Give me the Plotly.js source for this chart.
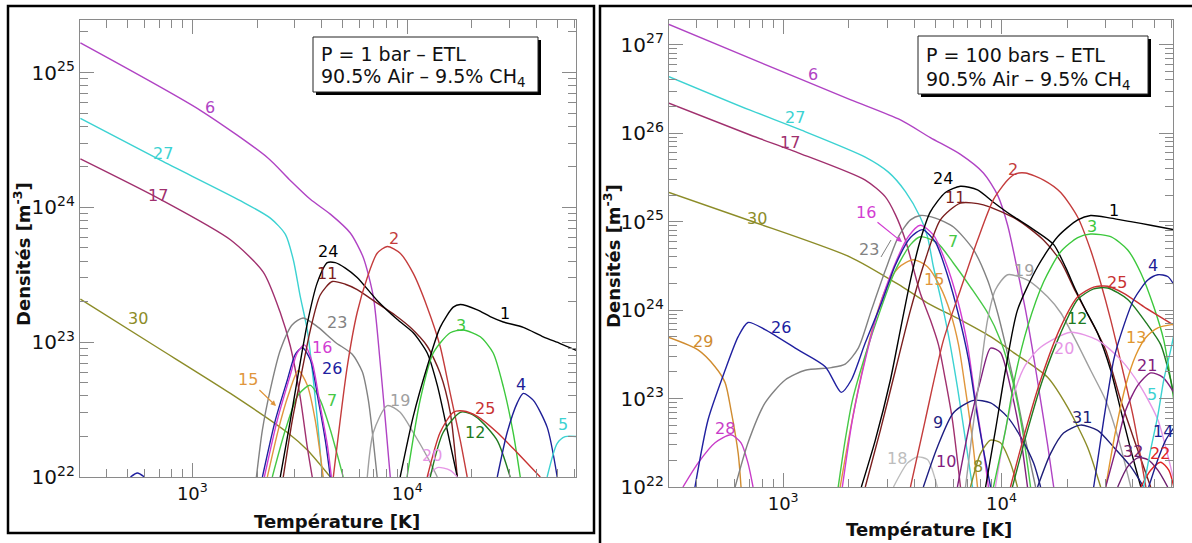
<!DOCTYPE html>
<html><head><meta charset="utf-8">
<script src="https://cdn.plot.ly/plotly-3.0.1.min.js"></script>
<style>html,body{margin:0;padding:0;background:#fff}#chart{width:1192px;height:543px}</style>
</head><body><div id="chart"></div>
<script>
// ===== DATA: log10(T / K) and log10(density / m^-3) =====
// ---- Left panel : P = 1 bar ----
const L1_lgT = [3.967,4.028,4.093,4.153,4.214,4.247,4.326,4.386,4.447,4.540,4.633,4.712,4.786];
const L1_lgN = [22.0,22.45,22.82,23.11,23.26,23.28,23.24,23.19,23.15,23.11,23.04,22.99,22.94];
const L2_lgT = [3.656,3.721,3.767,3.814,3.860,3.907,3.967,4.028,4.093,4.153,4.200,4.247,4.279];
const L2_lgN = [22.0,22.82,23.22,23.48,23.66,23.71,23.66,23.51,23.26,22.97,22.62,22.27,22.0];
const L3_lgT = [3.999,4.060,4.121,4.200,4.260,4.340,4.400,4.447,4.493,4.526];
const L3_lgN = [22.0,22.57,22.92,23.07,23.09,23.04,22.92,22.67,22.33,22.0];
const L4_lgT = [4.419,4.465,4.512,4.540,4.586,4.651,4.698];
const L4_lgN = [22.0,22.33,22.55,22.62,22.57,22.37,22.0];
const L5_lgT = [4.651,4.698,4.735,4.786];
const L5_lgN = [22.0,22.25,22.30,22.30];
const L6_lgT = [2.479,3.037,3.349,3.456,3.549,3.642,3.735,3.795,3.842,3.874,3.902,3.921];
const L6_lgN = [25.22,24.72,24.37,24.20,24.06,23.95,23.81,23.63,23.34,22.85,22.35,22.0];
const L7_lgT = [3.372,3.433,3.493,3.549,3.595,3.642,3.702];
const L7_lgN = [22.0,22.35,22.61,22.68,22.57,22.35,22.0];
const L11_lgT = [3.423,3.465,3.502,3.549,3.595,3.651,3.712,3.767,3.860,3.944,4.014,4.093,4.153,4.200,4.233];
const L11_lgN = [22.0,22.42,22.72,23.09,23.35,23.45,23.43,23.39,23.29,23.20,23.11,22.97,22.77,22.48,22.0];
const L12_lgT = [4.107,4.167,4.247,4.293,4.340,4.419,4.479];
const L12_lgN = [22.0,22.33,22.48,22.47,22.42,22.27,22.0];
const L15_lgT = [3.349,3.400,3.447,3.493,3.535,3.572,3.609];
const L15_lgN = [22.0,22.35,22.61,22.79,22.68,22.42,22.0];
const L16_lgT = [3.335,3.395,3.451,3.488,3.521,3.558,3.595,3.628,3.647];
const L16_lgN = [22.0,22.42,22.73,22.92,22.98,22.85,22.53,22.24,22.0];
const L17_lgT = [2.479,2.851,3.177,3.330,3.409,3.456,3.502,3.535,3.558];
const L17_lgN = [24.36,24.06,23.76,23.52,23.22,22.97,22.59,22.22,22.0];
const L19_lgT = [3.814,3.842,3.907,3.967,4.028,4.093,4.140];
const L19_lgN = [22.0,22.33,22.53,22.48,22.33,22.15,22.0];
const L20_lgT = [4.093,4.140,4.200,4.233];
const L20_lgN = [22.0,22.07,22.05,22.0];
const L23_lgT = [3.298,3.326,3.363,3.409,3.465,3.516,3.586,3.665,3.744,3.791,3.819,3.842,3.860];
const L23_lgN = [22.0,22.35,22.65,22.94,23.13,23.18,23.11,23.00,22.91,22.78,22.57,22.27,22.0];
const L24_lgT = [3.409,3.456,3.488,3.535,3.581,3.628,3.665,3.712,3.767,3.860,3.953,4.028,4.093,4.140,4.186,4.233];
const L24_lgN = [22.0,22.42,22.72,23.14,23.44,23.59,23.59,23.55,23.48,23.31,23.17,23.07,22.92,22.68,22.35,22.0];
const L25_lgT = [4.093,4.153,4.214,4.260,4.326,4.419,4.512,4.619];
const L25_lgN = [22.0,22.33,22.48,22.49,22.45,22.33,22.18,22.0];
const L26_lgT = [2.712,2.744,2.777,null,3.326,3.386,3.442,3.479,3.512,3.549,3.586,3.619,3.642];
const L26_lgN = [22.0,22.03,22.0,null,22.0,22.42,22.72,22.91,22.96,22.87,22.57,22.27,22.0];
const L27_lgT = [2.479,2.851,3.223,3.363,3.433,3.470,3.502,3.535,3.563,3.586,3.605];
const L27_lgN = [24.66,24.35,24.05,23.92,23.80,23.61,23.34,23.09,22.72,22.35,22.0];
const L30_lgT = [2.479,2.828,3.177,3.442,3.535,3.642];
const L30_lgN = [23.32,22.97,22.62,22.33,22.20,22.0];

// ---- Right panel : P = 100 bars ----
const R1_lgT = [3.927,3.972,4.018,4.073,4.165,4.257,4.349,4.408,4.500,4.592,4.683,4.789];
const R1_lgN = [22.0,22.64,23.32,24.00,24.49,24.83,25.02,25.07,25.04,25.00,24.96,24.91];
const R2_lgT = [3.583,3.651,3.734,3.812,3.890,3.963,4.028,4.064,4.110,4.193,4.271,4.349,4.408,4.454,4.500,4.555,4.606,4.661];
const R2_lgN = [22.0,22.76,23.66,24.23,24.79,25.25,25.47,25.54,25.55,25.47,25.33,25.05,24.68,24.31,23.89,23.32,22.76,22.0];
const R3_lgT = [3.963,4.018,4.064,4.119,4.193,4.271,4.349,4.408,4.500,4.578,4.638,4.697,4.743,4.775,4.789];
const R3_lgN = [22.0,22.64,23.27,23.81,24.32,24.66,24.82,24.86,24.83,24.68,24.42,24.04,23.66,23.21,22.98];
const R4_lgT = [4.422,4.468,4.514,4.546,4.606,4.670,4.716,4.761,4.789];
const R4_lgN = [22.0,22.76,23.44,23.72,24.12,24.34,24.40,24.38,24.29];
const R5_lgT = [4.651,4.683,4.716,4.743,4.775,4.789];
const R5_lgN = [22.0,22.42,22.81,23.21,23.55,23.72];
const R6_lgT = [2.477,2.894,3.307,3.537,3.674,3.812,3.917,3.982,4.028,4.073,4.110,4.142,4.179,4.211,4.239];
const R6_lgN = [27.23,26.80,26.38,26.15,25.95,25.76,25.55,25.30,24.96,24.45,24.00,23.55,22.98,22.48,22.0];
const R7_lgT = [3.252,3.284,3.317,3.376,3.445,3.514,3.583,3.628,3.706,3.780,3.858,3.936,3.995,4.050,4.096,4.133];
const R7_lgN = [22.0,22.53,22.98,23.49,24.00,24.45,24.74,24.83,24.76,24.53,24.26,23.97,23.66,23.21,22.64,22.0];
const R8_lgT = [3.858,3.904,3.950,3.995,4.041,4.073];
const R8_lgN = [22.0,22.38,22.53,22.50,22.27,22.0];
const R9_lgT = [3.642,3.706,3.780,3.872,3.950,4.028,4.087,4.147,4.179];
const R9_lgN = [22.0,22.45,22.84,22.98,22.95,22.79,22.57,22.27,22.0];
const R10_lgT = [3.798,3.858,3.904,3.950,3.995,4.041,4.087,4.119];
const R10_lgN = [22.0,22.76,23.21,23.57,23.52,23.13,22.57,22.0];
const R11_lgT = [3.376,3.445,3.514,3.583,3.651,3.720,3.812,3.917,4.073,4.193,4.271,4.339,4.408,4.477,4.546,4.615,4.683];
const R11_lgN = [22.0,22.64,23.32,24.00,24.57,25.02,25.21,25.19,25.02,24.79,24.55,24.21,23.89,23.55,22.98,22.48,22.0];
const R12_lgT = [4.050,4.119,4.188,4.271,4.349,4.422,4.486,4.578,4.670,4.729,4.775,4.789];
const R12_lgN = [22.0,22.64,23.21,23.74,24.12,24.24,24.25,24.12,23.83,23.61,23.21,23.04];
const R13_lgT = [4.477,4.523,4.569,4.615,4.661,4.716,4.789];
const R13_lgN = [22.0,22.64,23.15,23.49,23.69,23.80,23.84];
const R14_lgT = [4.674,4.716,4.752,4.789];
const R14_lgN = [22.0,22.31,22.53,22.67];
const R15_lgT = [3.261,3.307,3.353,3.408,3.468,3.528,3.596,3.661,3.720,3.766,3.803,3.835,3.867,3.890];
const R15_lgN = [22.0,22.64,23.21,23.78,24.23,24.48,24.57,24.49,24.26,23.97,23.61,23.10,22.53,22.0];
const R16_lgT = [3.271,3.317,3.376,3.436,3.505,3.573,3.628,3.688,3.743,3.798,3.844,3.881,3.917,3.940];
const R16_lgN = [22.0,22.76,23.44,24.00,24.48,24.83,24.96,24.85,24.55,24.12,23.61,22.98,22.42,22.0];
const R17_lgT = [2.477,2.849,3.078,3.376,3.468,3.514,3.560,3.592,3.628,3.674,3.711,3.743,3.775,3.812];
const R17_lgN = [26.34,25.98,25.77,25.47,25.28,25.08,24.79,24.51,24.19,23.89,23.61,23.21,22.76,22.0];
const R18_lgT = [3.505,3.569,3.615,3.661,3.706];
const R18_lgN = [22.0,22.27,22.34,22.31,22.0];
const R19_lgT = [3.835,3.867,3.904,3.936,3.972,4.028,4.119,4.211,4.271,4.339,4.408,4.477,4.537,4.592];
const R19_lgN = [22.0,22.64,23.32,23.89,24.23,24.40,24.34,24.15,23.97,23.66,23.32,22.98,22.53,22.0];
const R20_lgT = [3.972,4.009,4.055,4.110,4.179,4.317,4.440,4.546,4.638,4.716,4.761,4.789];
const R20_lgN = [22.0,22.53,23.04,23.38,23.58,23.75,23.66,23.44,23.13,22.76,22.36,22.08];
const R21_lgT = [4.477,4.523,4.569,4.624,4.683,4.739,4.789];
const R21_lgN = [22.0,22.42,22.87,23.15,23.29,23.24,23.07];
const R22_lgT = [4.638,4.683,4.729,4.766,4.789];
const R22_lgN = [22.0,22.19,22.28,22.19,22.0];
const R23_lgT = [2.780,2.839,2.917,3.009,3.101,3.220,3.284,3.344,3.404,3.468,3.528,3.583,3.628,3.697,3.780,3.872,3.936,3.982,4.018,4.064,4.110,4.156];
const R23_lgN = [22.0,22.50,22.95,23.21,23.32,23.35,23.39,23.57,24.00,24.45,24.83,25.02,25.07,25.04,24.94,24.68,24.34,23.97,23.61,23.10,22.53,22.0];
const R24_lgT = [3.358,3.422,3.491,3.537,3.583,3.628,3.674,3.743,3.812,3.890,3.963,4.041,4.147,4.239,4.294,4.339,4.385,4.440,4.500,4.546,4.592,4.638];
const R24_lgN = [22.0,22.53,23.21,23.78,24.34,24.79,25.11,25.33,25.40,25.36,25.22,25.08,24.91,24.74,24.48,24.23,24.00,23.74,23.32,22.87,22.42,22.0];
const R25_lgT = [4.041,4.110,4.179,4.271,4.349,4.422,4.486,4.560,4.651,4.789];
const R25_lgN = [22.0,22.64,23.21,23.81,24.15,24.26,24.27,24.19,24.04,23.83];
const R26_lgT = [2.596,2.656,2.734,2.794,2.839,2.917,3.069,3.193,3.266,3.312,3.376,3.450,3.514,3.583,3.638,3.697,3.752,3.803,3.849,3.885,3.917,3.950];
const R26_lgN = [22.0,22.76,23.32,23.70,23.86,23.78,23.55,23.36,23.07,23.21,23.63,24.08,24.51,24.82,24.91,24.77,24.40,23.95,23.44,22.87,22.42,22.0];
const R27_lgT = [2.477,2.849,3.078,3.376,3.482,3.560,3.628,3.661,3.688,3.720,3.752,3.798,3.835,3.867];
const R27_lgN = [26.64,26.26,26.04,25.73,25.56,25.34,25.05,24.83,24.49,24.15,23.78,23.13,22.53,22.0];
const R28_lgT = [2.541,2.610,2.688,2.761,2.807,2.839,2.862];
const R28_lgN = [22.0,22.27,22.50,22.59,22.50,22.27,22.0];
const R29_lgT = [2.477,2.610,2.688,2.734,2.761,2.794,2.807];
const R29_lgN = [23.69,23.55,23.36,23.18,22.87,22.38,22.0];
const R30_lgT = [2.477,2.849,3.307,3.528,3.661,3.812,3.950,4.055,4.211,4.303,4.394,4.454];
const R30_lgN = [25.33,25.01,24.60,24.29,24.08,23.89,23.70,23.52,23.24,22.90,22.45,22.0];
const R31_lgT = [4.165,4.225,4.284,4.362,4.440,4.514,4.592,4.651];
const R31_lgN = [22.0,22.38,22.61,22.70,22.64,22.45,22.23,22.0];
const R32_lgT = [4.532,4.578,4.624,4.670,4.716,4.761];
const R32_lgN = [22.0,22.23,22.33,22.31,22.19,22.0];

// tick labels
const yTickExpLeft = [22,23,24,25];
const yTickExpRight = [22,23,24,25,26,27];
const xTickExp = [3,4];

// ===== STYLE =====
const FONT = 'DejaVu Sans';
const COLORS = {1:'#000000',2:'#c43c3c',3:'#3cc83c',4:'#1e1e96',5:'#3cd2d2',6:'#b043c4',7:'#46c846',8:'#8c8c28',
 9:'#1e1e82',10:'#82207e',11:'#7a1e1e',12:'#207a20',13:'#e0962e',14:'#1e1e8c',15:'#e0963c',16:'#d23cd2',
 17:'#a0306e',18:'#bdbdbd',19:'#a0a0a0',20:'#e696e6',21:'#82207e',22:'#e02424',23:'#828282',24:'#000000',
 25:'#c83232',26:'#2020a0',27:'#3cd2d2',28:'#c83cc8',29:'#d08c30',30:'#8c8c28',31:'#1e1e78',32:'#6e2070'};

const leftSeries = [[30,L30_lgT,L30_lgN],[6,L6_lgT,L6_lgN],[27,L27_lgT,L27_lgN],[17,L17_lgT,L17_lgN],
 [23,L23_lgT,L23_lgN],[15,L15_lgT,L15_lgN],[7,L7_lgT,L7_lgN],[26,L26_lgT,L26_lgN],[16,L16_lgT,L16_lgN],
 [11,L11_lgT,L11_lgN],[24,L24_lgT,L24_lgN],[2,L2_lgT,L2_lgN],[19,L19_lgT,L19_lgN],[20,L20_lgT,L20_lgN],
 [3,L3_lgT,L3_lgN],[12,L12_lgT,L12_lgN],[25,L25_lgT,L25_lgN],[1,L1_lgT,L1_lgN],[4,L4_lgT,L4_lgN],[5,L5_lgT,L5_lgN]];
const rightSeries = [[30,R30_lgT,R30_lgN],[29,R29_lgT,R29_lgN],[28,R28_lgT,R28_lgN],[6,R6_lgT,R6_lgN],
 [27,R27_lgT,R27_lgN],[17,R17_lgT,R17_lgN],[23,R23_lgT,R23_lgN],[18,R18_lgT,R18_lgN],[15,R15_lgT,R15_lgN],
 [7,R7_lgT,R7_lgN],[16,R16_lgT,R16_lgN],[26,R26_lgT,R26_lgN],[11,R11_lgT,R11_lgN],[24,R24_lgT,R24_lgN],
 [9,R9_lgT,R9_lgN],[10,R10_lgT,R10_lgN],[8,R8_lgT,R8_lgN],[2,R2_lgT,R2_lgN],[19,R19_lgT,R19_lgN],
 [20,R20_lgT,R20_lgN],[1,R1_lgT,R1_lgN],[3,R3_lgT,R3_lgN],[12,R12_lgT,R12_lgN],[25,R25_lgT,R25_lgN],
 [31,R31_lgT,R31_lgN],[4,R4_lgT,R4_lgN],[13,R13_lgT,R13_lgN],[21,R21_lgT,R21_lgN],[32,R32_lgT,R32_lgN],
 [22,R22_lgT,R22_lgN],[5,R5_lgT,R5_lgN],[14,R14_lgT,R14_lgN]];

const pw = v => (v === null ? null : Math.pow(10, v));
const traces = [];
function addSeries(list, xa, ya){
  list.forEach(([id, lt, ln]) => {
    traces.push({x: lt.map(pw), y: ln.map(pw), xaxis: xa, yaxis: ya, mode: 'lines',
      line: {color: COLORS[id], width: 1.4, shape: 'spline', smoothing: 0.7},
      hoverinfo: 'skip', showlegend: false, connectgaps: false});
  });
}
addSeries(leftSeries, 'x', 'y');
addSeries(rightSeries, 'x2', 'y2');

// label positions (pixels in the 1192x543 image)
const PX = x => x / 1192, PY = y => 1 - y / 543;
const leftLabels = [['6',210,107],['27',163,153],['17',158,195],['30',138,318],['24',328,251],['11',327,273],
 ['23',337,322],['16',322,347],['26',332,368],['7',332,400],['2',394,238],['1',505,313],['3',461,325],
 ['19',400,400],['25',485,408],['12',475,432],['4',521,384],['5',563,424],['20',432,455]];
const rightLabels = [['6',813,75],['27',795,117],['17',790,142],['30',757,218],['29',703,342],['26',781,327],
 ['28',725,428],['23',869,249],['24',943,179],['11',955,197],['2',1013,169],['7',953,241],['15',934,279],
 ['19',1024,271],['1',1114,210],['3',1092,226],['25',1117,282],['12',1077,318],['4',1153,265],['13',1136,337],
 ['20',1064,348],['21',1147,365],['5',1152,394],['31',1082,417],['14',1163,431],['32',1133,451],['22',1160,453],
 ['9',938,422],['10',946,461],['8',978,466],['18',897,458]];

const annotations = [];
leftLabels.concat(rightLabels).forEach(([t, x, y]) => {
  annotations.push({xref:'paper', yref:'paper', x: PX(x), y: PY(y), text: t, showarrow: false,
    xanchor:'center', yanchor:'middle', font:{family: FONT, size: 16, color: COLORS[+t]}});
});
// arrowed labels
annotations.push({xref:'paper', yref:'paper', x: PX(276), y: PY(406), ax: -28, ay: -27, text:'15',
  showarrow:true, arrowhead:2, arrowsize:0.9, arrowwidth:1.2, arrowcolor: COLORS[15], standoff:0,
  font:{family: FONT, size: 16, color: COLORS[15]}});
annotations.push({xref:'paper', yref:'paper', x: PX(902), y: PY(242), ax: -36, ay: -29, text:'16',
  showarrow:true, arrowhead:2, arrowsize:0.9, arrowwidth:1.2, arrowcolor: COLORS[16], standoff:0,
  font:{family: FONT, size: 16, color: COLORS[16]}});

// axis titles
const tfont = {family: FONT, size: 18, color:'#111'};
const tA = {xref:'paper', yref:'paper', showarrow:false, xanchor:'center', yanchor:'middle', font: tfont};
annotations.push(Object.assign({}, tA, {x: PX(337), y: PY(521), text:'<b>Température [K]</b>'}));
annotations.push(Object.assign({}, tA, {x: PX(929), y: PY(529), text:'<b>Température [K]</b>'}));
annotations.push(Object.assign({}, tA, {x: PX(22), y: PY(254), text:'<b>Densités [m<sup>-3</sup>]</b>', textangle:-90}));
annotations.push(Object.assign({}, tA, {x: PX(612), y: PY(256), text:'<b>Densités [m<sup>-3</sup>]</b>', textangle:-90}));

// text boxes
const bfont = {family: FONT, size: 19, color:'#111'};
const bA = {xref:'paper', yref:'paper', xanchor:'left', yanchor:'middle', showarrow:false, font: bfont};
annotations.push(Object.assign({}, bA, {x: PX(319), y: PY(54), text:'P = 1 bar – ETL'}));
annotations.push(Object.assign({}, bA, {x: PX(319), y: PY(78), text:'90.5% Air – 9.5% CH<sub>4</sub>'}));
annotations.push(Object.assign({}, bA, {x: PX(924), y: PY(55), text:'P = 100 bars – ETL'}));
annotations.push(Object.assign({}, bA, {x: PX(924), y: PY(80), text:'90.5% Air – 9.5% CH<sub>4</sub>'}));

function rectPx(x0,y0,x1,y1,opts){
  return Object.assign({type:'rect', xref:'paper', yref:'paper', x0:PX(x0), x1:PX(x1), y0:PY(y1), y1:PY(y0)}, opts);
}
const shapes = [
  rectPx(8,6,594,533,{line:{color:'#000',width:2.5}, fillcolor:'rgba(0,0,0,0)'}),
  rectPx(600,6,1194,560,{line:{color:'#000',width:2.5}, fillcolor:'rgba(0,0,0,0)'}),
  rectPx(316,40,541,95,{line:{width:0}, fillcolor:'#000'}),
  rectPx(313,37,538,92,{line:{color:'#222',width:1}, fillcolor:'#fff'}),
  rectPx(921,39,1151,97,{line:{width:0}, fillcolor:'#000'}),
  rectPx(918,36,1148,94,{line:{color:'#222',width:1}, fillcolor:'#fff'}),
  {type:'line', xref:'paper', yref:'paper', x0:PX(881), y0:PY(257), x1:PX(891), y1:PY(240), line:{color:COLORS[23], width:1}}
];

// ticks
const sup = e => '10<sup>' + e + '</sup>';
function minorVals(e0, e1){ const a=[]; for(let e=e0;e<=e1;e++){ for(let m=2;m<=9;m++){ a.push(m*Math.pow(10,e)); } } return a; }
const axCommon = {type:'log', showgrid:false, zeroline:false, showline:true, linecolor:'#8a8a8a', linewidth:1.2,
  mirror:'ticks', ticks:'inside', ticklen:14, tickwidth:1, tickcolor:'#8a8a8a', tickmode:'array'};
function xaxisDef(dom){
  return Object.assign({}, axCommon, {domain: dom, range:[Math.log10(300), Math.log10(61000)],
    tickvals: xTickExp.map(e=>Math.pow(10,e)), ticktext: xTickExp.map(sup),
    tickfont:{family:FONT, size:18, color:'#111'},
    minor:{tickmode:'array', tickvals: minorVals(2,4), ticks:'inside', ticklen:8, tickcolor:'#8a8a8a', tickwidth:1, showgrid:false}});
}
function yaxisDef(dom, top, exps, anchor){
  return Object.assign({}, axCommon, {domain: dom, range:[22, top], anchor: anchor,
    tickvals: exps.map(e=>Math.pow(10,e)), ticktext: exps.map(sup),
    tickfont:{family:FONT, size:20, color:'#111'},
    minor:{tickmode:'array', tickvals: minorVals(22,27), ticks:'inside', ticklen:8, tickcolor:'#8a8a8a', tickwidth:1, showgrid:false}});
}

const layout = {
  width:1192, height:543, margin:{l:0,r:0,t:0,b:0}, paper_bgcolor:'#fff', plot_bgcolor:'#fff',
  hovermode:false, showlegend:false,
  xaxis: Object.assign(xaxisDef([PX(80), PX(576)]), {anchor:'y'}),
  yaxis: yaxisDef([PY(477), PY(20)], 25.39, yTickExpLeft, 'x'),
  xaxis2: Object.assign(xaxisDef([PX(669), PX(1173)]), {anchor:'y2'}),
  yaxis2: yaxisDef([PY(487), PY(20)], 27.28, yTickExpRight, 'x2'),
  annotations: annotations, shapes: shapes
};
Plotly.newPlot('chart', traces, layout, {staticPlot:true, displayModeBar:false});
</script></body></html>
